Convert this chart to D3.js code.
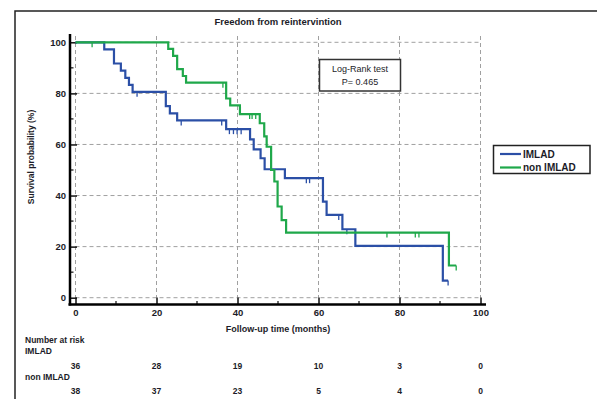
<!DOCTYPE html>
<html>
<head>
<meta charset="utf-8">
<script src="https://cdn.jsdelivr.net/npm/d3@7"></script>
<style>
  body { margin: 0; background: #fff; }
  svg text { font-family: "Liberation Sans", Arial, sans-serif; fill: #1c1c28; }
</style>
</head>
<body>
<div id="chart"></div>
<script>
// step curves: time of each drop (months) and survival (%) after it
const imladTimes = [0, 7.1, 9.5, 11.2, 12.3, 13.2, 14.1, 22.3, 23.3, 25.1, 37.2, 43.1, 44.0, 45.7, 46.7, 51.7, 61.1, 62.0, 65.9, 69.1, 90.7]
const imladSurv  = [100, 97.2, 91.7, 88.9, 86.1, 83.3, 80.6, 75.0, 72.2, 69.4, 66.0, 62.0, 58.1, 54.6, 50.3, 46.8, 37.6, 32.4, 26.8, 20.3, 6.7]
const imladEnd = 92.0
const imladCensor = [15.2, 26.1, 36.1, 38.0, 39.0, 39.9, 40.9, 57.0, 57.8, 65.0, 67.0, 92.0]

const nonTimes = [0, 22.9, 24.1, 25.1, 26.5, 27.3, 37.2, 38.2, 40.6, 45.5, 46.6, 47.2, 48.3, 49.1, 49.9, 50.9, 52.0, 92.2]
const nonSurv  = [100, 97.4, 94.7, 89.5, 86.8, 84.2, 78.0, 75.3, 71.9, 68.3, 63.2, 59.1, 50.0, 45.5, 35.7, 30.4, 25.5, 12.6]
const nonEnd = 94.0
const nonCensor = [4.1, 36.4, 43.0, 43.6, 44.5, 76.9, 83.9, 84.8, 94.0]

const xTicks = [0, 20, 40, 60, 80, 100]
const xMinor = [10, 30, 50, 70, 90]
const yTicks = [0, 20, 40, 60, 80, 100]
const yMinor = [10, 30, 50, 70, 90]

const riskTimes = [0, 20, 40, 60, 80, 100]
const riskImlad = [36, 28, 19, 10, 3, 0]
const riskNon   = [38, 37, 23, 5, 4, 0]

const blue = '#2b4fa6'
const green = '#1fa84a'

const width = 597
const height = 399

const svg = d3.select('#chart')
  .append('svg')
  .attr('width', width)
  .attr('height', height)

const x = d3.scaleLinear().domain([0, 100]).range([75.5, 480.5])
const y = d3.scaleLinear().domain([0, 100]).range([297.7, 42.3])

const axisY = 304.5
const axisX = 70

// outer frame (left and top edges only are visible)
svg.append('path')
  .attr('d', `M15,${height} L15,11 L${width},11`)
  .attr('fill', 'none')
  .attr('stroke', '#222')
  .attr('stroke-width', 1.5)

// grid
const grid = svg.append('g').attr('stroke', '#a0a0a0').attr('stroke-width', 1).attr('stroke-dasharray', '4,3')
grid.selectAll('.gx').data(xTicks).enter().append('line')
  .attr('x1', d => x(d)).attr('x2', d => x(d))
  .attr('y1', 36).attr('y2', y(0))
grid.selectAll('.gy').data(yTicks).enter().append('line')
  .attr('x1', x(0)).attr('x2', x(100))
  .attr('y1', d => y(d)).attr('y2', d => y(d))

// x axis
const xAxis = svg.append('g')
  .attr('transform', `translate(0,${axisY})`)
  .call(d3.axisBottom(x).tickValues(xTicks).tickSize(-7).tickPadding(5))
xAxis.select('.domain').remove()
xAxis.selectAll('line').attr('stroke', '#111').attr('stroke-width', 1.5)
xAxis.selectAll('text').style('font-size', '9.5px').style('font-weight', 'bold').attr('fill', '#1c1c28')
xAxis.selectAll('.minor').data(xMinor).enter().append('line')
  .attr('x1', d => x(d)).attr('x2', d => x(d))
  .attr('y1', 0).attr('y2', -3.5)
  .attr('stroke', '#111').attr('stroke-width', 1.2)
xAxis.append('line')
  .attr('x1', 68.5).attr('x2', 486).attr('y1', 0).attr('y2', 0)
  .attr('stroke', '#000').attr('stroke-width', 2.5)

// y axis
const yAxis = svg.append('g')
  .attr('transform', `translate(${axisX},0)`)
  .call(d3.axisLeft(y).tickValues(yTicks).tickSize(-7).tickPadding(4))
yAxis.select('.domain').remove()
yAxis.selectAll('line').attr('stroke', '#111').attr('stroke-width', 1.5)
yAxis.selectAll('text').style('font-size', '9.5px').style('font-weight', 'bold').attr('fill', '#1c1c28')
yAxis.selectAll('.minor').data(yMinor).enter().append('line')
  .attr('x1', 0).attr('x2', 3.5)
  .attr('y1', d => y(d)).attr('y2', d => y(d))
  .attr('stroke', '#111').attr('stroke-width', 1.2)
yAxis.append('line')
  .attr('x1', 0).attr('x2', 0).attr('y1', 34).attr('y2', axisY + 1)
  .attr('stroke', '#000').attr('stroke-width', 2.5)

// curves
const line = d3.line().x(d => x(d[0])).y(d => y(d[1])).curve(d3.curveStepAfter)

function survAt(times, surv, t) {
  let s = surv[0]
  times.forEach((tt, i) => { if (tt <= t) s = surv[i] })
  return s
}

const series = [
  { times: imladTimes, surv: imladSurv, end: imladEnd, censor: imladCensor, color: blue },
  { times: nonTimes, surv: nonSurv, end: nonEnd, censor: nonCensor, color: green }
]

series.forEach(s => {
  const pts = s.times.map((t, i) => [t, s.surv[i]])
  pts.push([s.end, s.surv[s.surv.length - 1]])
  svg.append('path')
    .datum(pts)
    .attr('d', line)
    .attr('fill', 'none')
    .attr('stroke', s.color)
    .attr('stroke-width', 2.2)
  svg.append('g').selectAll('line').data(s.censor).enter().append('line')
    .attr('x1', d => x(d)).attr('x2', d => x(d))
    .attr('y1', d => y(survAt(s.times, s.surv, d)))
    .attr('y2', d => y(survAt(s.times, s.surv, d)) + 5)
    .attr('stroke', s.color)
    .attr('stroke-width', 1.3)
})

// title and axis titles
svg.append('text')
  .attr('x', 278).attr('y', 25)
  .attr('text-anchor', 'middle')
  .style('font-size', '9.5px').style('font-weight', 'bold')
  .text('Freedom from reintervintion')

svg.append('text')
  .attr('x', 278).attr('y', 331.5)
  .attr('text-anchor', 'middle')
  .style('font-size', '9px').style('font-weight', 'bold')
  .text('Follow-up time (months)')

svg.append('text')
  .attr('transform', 'translate(34,157) rotate(-90)')
  .attr('text-anchor', 'middle')
  .style('font-size', '8.5px').style('font-weight', 'bold')
  .text('Survival probability (%)')

// log-rank box
svg.append('rect')
  .attr('x', 319.5).attr('y', 59.5).attr('width', 81).attr('height', 31.5)
  .attr('fill', '#fff').attr('stroke', '#333').attr('stroke-width', 1.5)
svg.append('text')
  .attr('x', 360).attr('y', 72).attr('text-anchor', 'middle')
  .style('font-size', '9px')
  .text('Log-Rank test')
svg.append('text')
  .attr('x', 360).attr('y', 84.5).attr('text-anchor', 'middle')
  .style('font-size', '9px')
  .text('P= 0.465')

// legend
const legendNames = ['IMLAD', 'non IMLAD']
const legend = svg.append('g')
legend.append('rect')
  .attr('x', 493.5).attr('y', 145.5).attr('width', 96.5).attr('height', 28)
  .attr('fill', '#fff').attr('stroke', '#222').attr('stroke-width', 1.5)
legendNames.forEach((name, i) => {
  const ly = 154 + i * 13.5
  legend.append('line')
    .attr('x1', 500).attr('x2', 521).attr('y1', ly).attr('y2', ly)
    .attr('stroke', series[i].color).attr('stroke-width', 2.2)
  legend.append('text')
    .attr('x', 523).attr('y', ly + 3.5)
    .style('font-size', '10px').style('font-weight', 'bold')
    .text(name)
})

// number at risk table
const risk = svg.append('g').style('font-size', '8.5px').style('font-weight', 'bold')
risk.append('text').attr('x', 25).attr('y', 342.5).text('Number at risk')
risk.append('text').attr('x', 25).attr('y', 354).text('IMLAD')
risk.append('text').attr('x', 25).attr('y', 380).text('non IMLAD')
risk.selectAll('.r1').data(riskImlad).enter().append('text')
  .attr('x', (d, i) => x(riskTimes[i]))
  .attr('y', 368.5)
  .attr('text-anchor', 'middle')
  .text(d => d)
risk.selectAll('.r2').data(riskNon).enter().append('text')
  .attr('x', (d, i) => x(riskTimes[i]))
  .attr('y', 393.5)
  .attr('text-anchor', 'middle')
  .text(d => d)
</script>
</body>
</html>
